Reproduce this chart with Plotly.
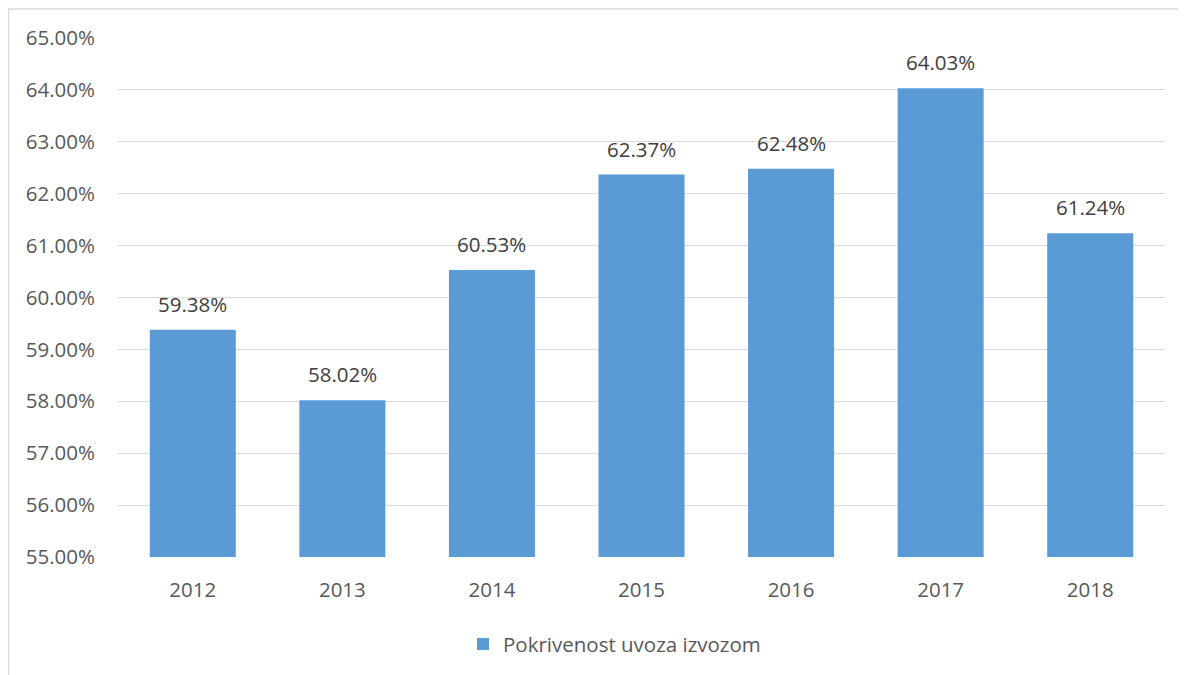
import plotly.graph_objects as go

years = ["2012", "2013", "2014", "2015", "2016", "2017", "2018"]
values = [59.38, 58.02, 60.53, 62.37, 62.48, 64.03, 61.24]
series_name = "Pokrivenost uvoza izvozom"
y_ticks = [55, 56, 57, 58, 59, 60, 61, 62, 63, 64, 65]

FONT = "Open Sans"
FS = 20.5

fig = go.Figure()
fig.add_trace(go.Bar(
    x=years, y=values, name=series_name,
    marker=dict(color="#5B9BD5", line=dict(width=0)),
    showlegend=True,
))

# category axis: annotations use the category serial number
for i, v in enumerate(values):
    fig.add_annotation(
        x=i, y=v, xref="x", yref="y",
        text=f"{v:.2f}%", showarrow=False,
        yanchor="bottom", yshift=10,
        font=dict(family=FONT, size=FS, color="#404040"),
    )

fig.update_layout(
    width=1186, height=675,
    margin=dict(l=110, r=29, t=30, b=126),
    paper_bgcolor="white", plot_bgcolor="white",
    bargap=0.425,
    font=dict(family=FONT, color="#595959"),
    xaxis=dict(
        type="category", categoryorder="array", categoryarray=years,
        range=[-0.5, len(years) - 0.5],
        showgrid=False, showline=False, zeroline=False,
        tickfont=dict(family=FONT, size=FS, color="#595959"),
        ticks="", ticklabelstandoff=18,
    ),
    yaxis=dict(
        range=[55, 65], tickvals=y_ticks,
        ticktext=[f"{t:.2f}%" for t in y_ticks],
        showgrid=True, gridcolor="#D9D9D9", gridwidth=1.3,
        zeroline=False, showline=False, ticks="",
        tickfont=dict(family=FONT, size=FS, color="#595959"),
        ticklabelstandoff=22,
    ),
    legend=dict(
        orientation="h", x=0.3295, xanchor="left", y=-0.168, yanchor="middle",
        font=dict(family=FONT, size=FS, color="#595959"),
        itemwidth=30,
    ),
    shapes=[dict(
        type="rect", xref="paper", yref="paper",
        x0=-0.1046, x1=1.05, y0=-0.3, y1=1.0559,
        line=dict(color="#D9D9D9", width=1.5), fillcolor="rgba(0,0,0,0)",
        layer="below",
    )],
)

fig.write_html("out.html")
